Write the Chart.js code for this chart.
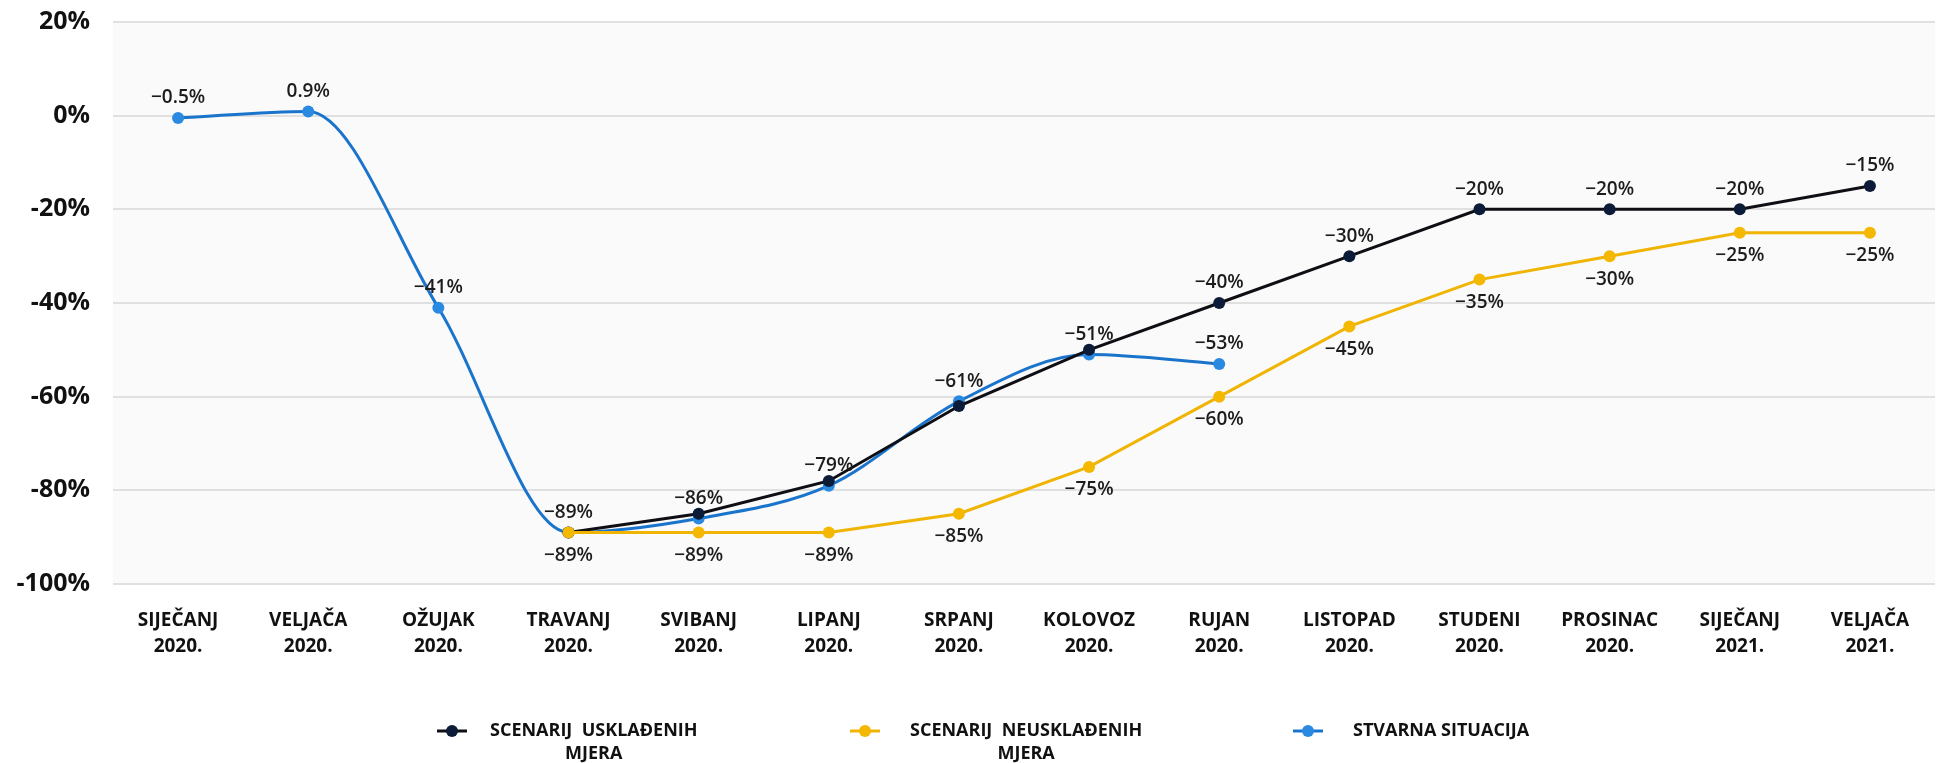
<!DOCTYPE html>
<html lang="hr">
<head>
<meta charset="utf-8">
<title>Scenariji kretanja 2020.–2021.</title>
<script src="https://cdn.jsdelivr.net/npm/chart.js@4.4.1/dist/chart.umd.min.js"></script>
<style>
  html, body { margin: 0; padding: 0; background: #ffffff; }
  #wrap { position: relative; width: 1942px; height: 763px; }
</style>
</head>
<body>
<div id="wrap"><canvas id="chart" width="1942" height="763"></canvas></div>
<script>
// Months on the x axis (two-line labels)
const months = [
  ['SIJEČANJ', '2020.'], ['VELJAČA', '2020.'], ['OŽUJAK', '2020.'], ['TRAVANJ', '2020.'],
  ['SVIBANJ', '2020.'], ['LIPANJ', '2020.'], ['SRPANJ', '2020.'], ['KOLOVOZ', '2020.'],
  ['RUJAN', '2020.'], ['LISTOPAD', '2020.'], ['STUDENI', '2020.'], ['PROSINAC', '2020.'],
  ['SIJEČANJ', '2021.'], ['VELJAČA', '2021.']
];

// Change in %, per month
const uskladeni   = [null, null, null, -89, -85, -78, -62, -50, -40, -30, -20, -20, -20, -15];
const neuskladeni = [null, null, null, -89, -89, -89, -85, -75, -60, -45, -35, -30, -25, -25];
const stvarno     = [-0.5, 0.9, -41, -89, -86, -79, -61, -51, -53, null, null, null, null, null];

// Which points carry a value label
const uskladeniLabelled   = [3, 8, 9, 10, 11, 12, 13];
const neuskladeniLabelled = [3, 4, 5, 6, 7, 8, 9, 10, 11, 12, 13];
const stvarnoLabelled     = [0, 1, 2, 4, 5, 6, 7, 8];

// Y axis ticks
const yTickValues = [-100, -80, -60, -40, -20, 0, 20];
const yTickLabels = ['-100%', '-80%', '-60%', '-40%', '-20%', '0%', '20%'];

// Series names (legend lines)
const seriesNames = [
  ['SCENARIJ  USKLAĐENIH', 'MJERA'],
  ['SCENARIJ  NEUSKLAĐENIH', 'MJERA'],
  ['STVARNA SITUACIJA']
];

const FONT = '"Open Sans", "Liberation Sans", sans-serif';

function fmtPct(v) {
  const s = String(Math.abs(v)) + '%';
  return v < 0 ? '\u2212' + s : s;
}

// Light grey fill behind the plotting area
const plotBackground = {
  id: 'plotBackground',
  beforeDraw(chart) {
    const { ctx, chartArea: a } = chart;
    ctx.save();
    ctx.fillStyle = '#fafafa';
    ctx.fillRect(a.left, a.top, a.right - a.left, a.bottom - a.top);
    ctx.restore();
  }
};

// Value labels above / below the points
const valueLabels = {
  id: 'valueLabels',
  afterDatasetsDraw(chart) {
    const ctx = chart.ctx;
    ctx.save();
    ctx.font = '600 19px ' + FONT;
    ctx.fillStyle = '#1c1c1c';
    ctx.textAlign = 'center';
    ctx.textBaseline = 'middle';
    chart.data.datasets.forEach((ds, i) => {
      const meta = chart.getDatasetMeta(i);
      ds.labelled.forEach(idx => {
        const v = ds.data[idx];
        const pt = meta.data[idx];
        if (v === null || !pt) return;
        const y = ds.labelSide === 'below' ? pt.y + 23 : pt.y - 20;
        ctx.fillText(fmtPct(v), pt.x, y);
      });
    });
    ctx.restore();
  }
};

// Legend under the x axis, with wrapped names
const bottomLegend = {
  id: 'bottomLegend',
  afterDraw(chart, args, opts) {
    const ctx = chart.ctx;
    ctx.save();
    ctx.font = 'bold 18px ' + FONT;
    ctx.textBaseline = 'middle';
    ctx.textAlign = 'center';
    opts.items.forEach((it, i) => {
      const ds = chart.data.datasets[it.dataset];
      const y = opts.y;
      ctx.strokeStyle = ds.borderColor;
      ctx.lineWidth = 3;
      ctx.beginPath();
      ctx.moveTo(it.marker - 15, y);
      ctx.lineTo(it.marker + 15, y);
      ctx.stroke();
      ctx.fillStyle = ds.pointBackgroundColor;
      ctx.beginPath();
      ctx.arc(it.marker, y, 6, 0, Math.PI * 2);
      ctx.fill();
      const lines = seriesNames[i];
      const cx = it.text + ctx.measureText(lines[0]).width / 2;
      ctx.fillStyle = '#111111';
      lines.forEach((ln, k) => ctx.fillText(ln, cx, y + k * opts.lineHeight));
    });
    ctx.restore();
  }
};

new Chart(document.getElementById('chart'), {
  type: 'line',
  data: {
    labels: months,
    datasets: [
      {
        label: seriesNames[0].join(' '),
        data: uskladeni,
        labelled: uskladeniLabelled,
        labelSide: 'above',
        borderColor: '#0e0e14',
        backgroundColor: '#0b1b38',
        pointBackgroundColor: '#0b1b38',
        pointBorderColor: '#0b1b38',
        pointBorderWidth: 0,
        pointRadius: 6,
        borderWidth: 3,
        tension: 0,
        order: 1
      },
      {
        label: seriesNames[1].join(' '),
        data: neuskladeni,
        labelled: neuskladeniLabelled,
        labelSide: 'below',
        borderColor: '#f0b404',
        backgroundColor: '#f5b800',
        pointBackgroundColor: '#f5b800',
        pointBorderColor: '#f5b800',
        pointBorderWidth: 0,
        pointRadius: 6,
        borderWidth: 3,
        tension: 0,
        order: 0
      },
      {
        label: seriesNames[2].join(' '),
        data: stvarno,
        labelled: stvarnoLabelled,
        labelSide: 'above',
        borderColor: '#1a74cc',
        backgroundColor: '#2a8ae2',
        pointBackgroundColor: '#2a8ae2',
        pointBorderColor: '#2a8ae2',
        pointBorderWidth: 0,
        pointRadius: 6,
        borderWidth: 3,
        cubicInterpolationMode: 'monotone',
        order: 2
      }
    ]
  },
  options: {
    responsive: false,
    animation: false,
    devicePixelRatio: 1,
    layout: { padding: { top: 22, right: 7, left: 0, bottom: 0 } },
    plugins: {
      legend: { display: false },
      tooltip: { enabled: false },
      bottomLegend: {
        y: 731,
        lineHeight: 23,
        items: [
          { dataset: 0, marker: 452, text: 490 },
          { dataset: 1, marker: 865, text: 910 },
          { dataset: 2, marker: 1308, text: 1353 }
        ]
      }
    },
    scales: {
      x: {
        type: 'category',
        offset: true,
        grid: { display: false, drawTicks: false },
        border: { display: false },
        ticks: {
          padding: 24,
          autoSkip: false,
          maxRotation: 0,
          color: '#111111',
          font: { family: FONT, weight: 'bold', size: 19, lineHeight: 1.34 }
        },
        afterFit(scale) { scale.height = 179; }
      },
      y: {
        min: -100,
        max: 20,
        afterBuildTicks(scale) { scale.ticks = yTickValues.map(v => ({ value: v })); },
        grid: { color: '#e0e0e0', lineWidth: 2, drawTicks: true, tickLength: 23, tickColor: 'rgba(0,0,0,0)' },
        border: { display: false },
        ticks: {
          padding: 0,
          color: '#111111',
          font: { family: FONT, weight: 'bold', size: 25 },
          callback: (v, i) => yTickLabels[yTickValues.indexOf(v)]
        },
        afterFit(scale) { scale.width = 113; }
      }
    }
  },
  plugins: [plotBackground, valueLabels, bottomLegend]
});
</script>
</body>
</html>
